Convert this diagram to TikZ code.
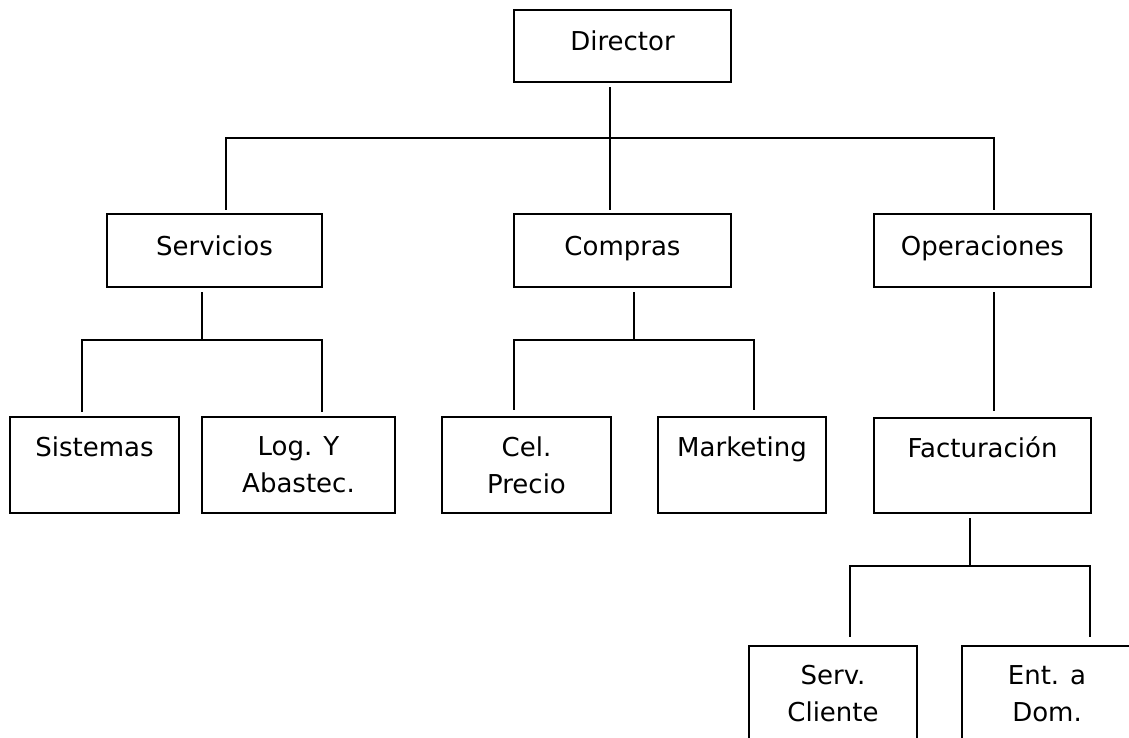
\documentclass[tikz,border=0pt]{standalone}
\usepackage{fontspec}
\setmainfont{DejaVu Sans}
\begin{document}
\begin{tikzpicture}[x=1pt,y=-1pt,
  box/.style={draw, line width=2.2pt, inner sep=0pt, align=center,
    font=\fontsize{26}{37}\selectfont},
  unitbox/.style={box, text height=19pt, text depth=9pt},
  link/.style={line width=1.9pt}]
\useasboundingbox (0,0) rectangle (1129,738);
\fill[white] (0,0) rectangle (1129,738);
\clip (0,0) rectangle (1129,738);

% top level
\node[unitbox, minimum width=217, minimum height=72] (dir) at (622.5,46) {Director};

% second level
\node[unitbox, minimum width=215, minimum height=73] (serv) at (214.5,250.5) {Servicios};
\node[unitbox, minimum width=217, minimum height=73] (comp) at (622.5,250.5) {Compras};
\node[unitbox, minimum width=217, minimum height=73] (oper) at (982.5,250.5) {Operaciones};

% third level
\node[box, minimum width=169, minimum height=96] (sis) at (94.5,465) {Sistemas\\\mbox{}};
\node[box, minimum width=193, minimum height=96] (log) at (298.5,465) {Log. Y\\Abastec.};
\node[box, minimum width=169, minimum height=96] (cel) at (526.5,465) {Cel.\\Precio};
\node[box, minimum width=168, minimum height=96] (mkt) at (742,465) {Marketing\\\mbox{}};
\node[box, minimum width=217, minimum height=95] (fac) at (982.5,465.5) {Facturación\\\mbox{}};

% fourth level
\node[box, minimum width=168, minimum height=96] (cli) at (833,694) {Serv.\\Cliente};
\node[box, minimum width=170, minimum height=96] (dom) at (1047,694) {Ent. a\\Dom.};

% Director to second level
\coordinate (busTop) at (610,138);
\draw[link] ([xshift=-12.5pt,yshift=-4pt]dir.south) -- (busTop);
\draw[link] ([xshift=11.5pt,yshift=3pt]serv.north) |- (busTop) -| ([xshift=11.5pt,yshift=3pt]oper.north);
\draw[link] (busTop) -- ([xshift=-12.5pt,yshift=3pt]comp.north);

% Servicios branch
\coordinate (busS) at (202,340);
\draw[link] ([xshift=-12.5pt,yshift=-4pt]serv.south) -- (busS);
\draw[link] ([xshift=-12.5pt,yshift=4pt]sis.north) |- (busS) -| ([xshift=23.5pt,yshift=4pt]log.north);

% Compras branch
\coordinate (busC) at (634,340);
\draw[link] ([xshift=11.5pt,yshift=-4pt]comp.south) -- (busC);
\draw[link] ([xshift=-12.5pt,yshift=6pt]cel.north) |- (busC) -| ([xshift=12pt,yshift=6pt]mkt.north);

% Operaciones branch
\draw[link] ([xshift=11.5pt,yshift=-4pt]oper.south) -- ([xshift=11.5pt,yshift=6pt]fac.north);

% Facturacion branch
\coordinate (busF) at (970,566);
\draw[link] ([xshift=-12.5pt,yshift=-4pt]fac.south) -- (busF);
\draw[link] ([xshift=17pt,yshift=8pt]cli.north) |- (busF) -| ([xshift=43pt,yshift=8pt]dom.north);
\end{tikzpicture}
\end{document}
